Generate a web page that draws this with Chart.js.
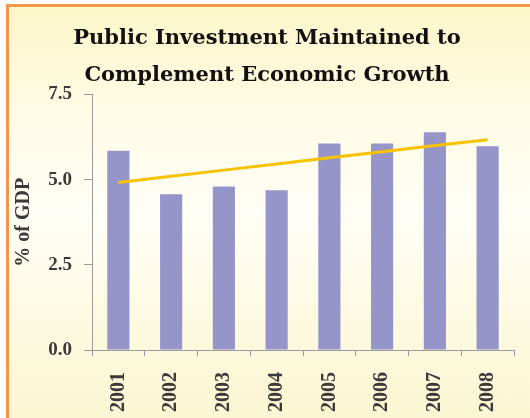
<!DOCTYPE html>
<html>
<head>
<meta charset="utf-8">
<script src="https://cdn.jsdelivr.net/npm/chart.js@4.4.1/dist/chart.umd.min.js"></script>
<style>
  html, body { margin: 0; padding: 0; background: #ffffff; }
  #wrap { position: relative; width: 530px; height: 418px; overflow: hidden; }
  #panel {
    position: absolute; left: 6px; top: 4px; right: 0; bottom: 0;
    border-left: 3px solid #f79646; border-top: 3px solid #f79646;
    background: linear-gradient(to bottom, #fdf7ca 0%, #fefbe4 25%, #fffef6 50%, #fdfae2 75%, #fbf6d2 100%);
  }
  canvas { position: absolute; left: 0; top: 0; }
</style>
</head>
<body>
<div id="wrap">
  <div id="panel"></div>
  <canvas id="c" width="530" height="418"></canvas>
</div>
<script>
// Public investment, % of GDP
const years = ['2001', '2002', '2003', '2004', '2005', '2006', '2007', '2008'];
const investment = [5.85, 4.57, 4.80, 4.69, 6.06, 6.06, 6.39, 5.98];
const trend = [4.92, 5.10, 5.28, 5.46, 5.64, 5.82, 6.00, 6.17];
const yTicks = [0, 2.5, 5.0, 7.5];

const serif = "'Liberation Serif', 'DejaVu Serif', serif";
const titleSerif = "'DejaVu Serif', 'Liberation Serif', serif";
const axisGrey = '#9a9a9a';

// centre the heading over the panel rather than the full canvas
const titleShift = {
  id: 'titleShift',
  afterLayout(chart) {
    const t = chart.titleBlock;
    if (t) { t.left += 20; }
  }
};

new Chart(document.getElementById('c'), {
  type: 'bar',
  data: {
    labels: years,
    datasets: [
      {
        type: 'line',
        data: trend,
        borderColor: '#f7c300',
        borderWidth: 3,
        pointRadius: 0,
        fill: false,
        tension: 0,
        order: 0
      },
      {
        type: 'bar',
        data: investment,
        backgroundColor: '#9695c9',
        borderWidth: 0,
        categoryPercentage: 0.42,
        barPercentage: 1.0,
        order: 1
      }
    ]
  },
  plugins: [titleShift],
  options: {
    responsive: false,
    animation: false,
    layout: { padding: { left: 0, right: 16, top: 0, bottom: 0 } },
    plugins: {
      legend: { display: false },
      tooltip: { enabled: false },
      title: {
        display: true,
        text: ['Public Investment Maintained to', 'Complement Economic Growth'],
        color: '#111111',
        font: { family: titleSerif, size: 21, weight: 'bold', lineHeight: 1.75 },
        padding: { top: 20, bottom: 1 }
      }
    },
    scales: {
      x: {
        grid: { display: true, drawOnChartArea: false, drawTicks: true, tickLength: 6, color: axisGrey, offset: true },
        border: { display: true, color: axisGrey, width: 1 },
        ticks: {
          color: '#3a3a3a',
          font: { family: serif, size: 20, weight: 'bold' },
          minRotation: 90, maxRotation: 90,
          padding: 16
        },
        afterFit: (s) => { s.height = 68; }
      },
      y: {
        min: 0, max: 7.5,
        afterBuildTicks: (s) => { s.ticks = yTicks.map(v => ({ value: v })); },
        grid: { display: true, drawOnChartArea: false, drawTicks: true, tickLength: 8, color: axisGrey },
        border: { display: true, color: axisGrey, width: 1 },
        ticks: {
          color: '#3a3a3a',
          font: { family: serif, size: 19, weight: 'bold' },
          padding: 12,
          callback: (v) => Number(v).toFixed(1)
        },
        title: {
          display: true,
          text: '% of GDP',
          color: '#3a3a3a',
          font: { family: serif, size: 20, weight: 'bold' },
          padding: { top: 12, bottom: 2 }
        },
        afterFit: (s) => { s.width = 92; }
      }
    }
  }
});
</script>
</body>
</html>
